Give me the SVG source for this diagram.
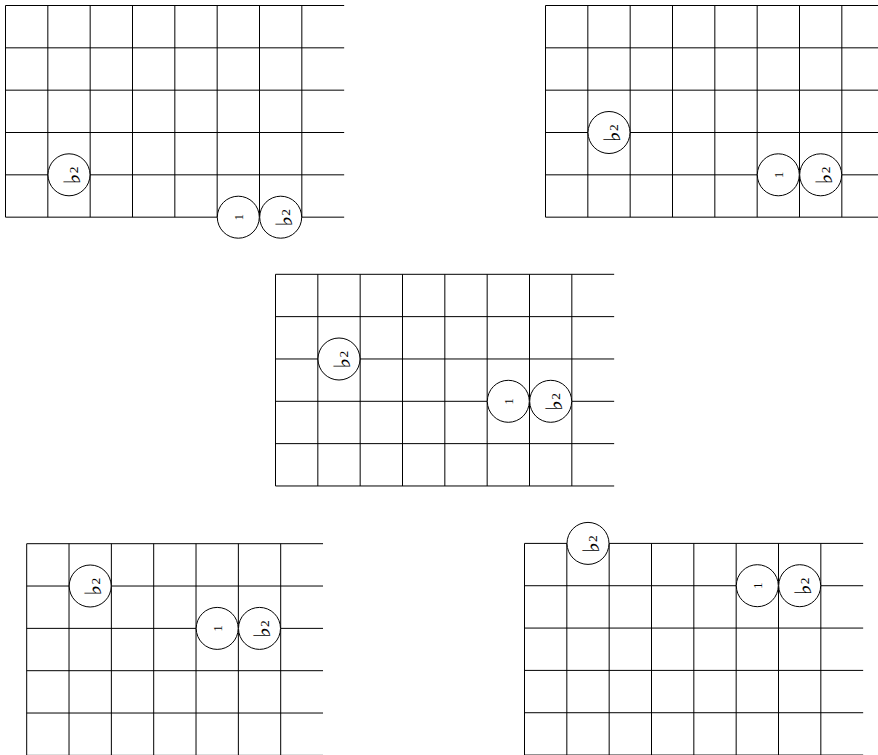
<svg xmlns="http://www.w3.org/2000/svg" xmlns:xlink="http://www.w3.org/1999/xlink" width="878" height="755" viewBox="0 0 878 755">
<style>
.grid{fill:none;stroke:#000;stroke-width:1}
.nc{fill:#fff;stroke:#000;stroke-width:1}
.num{font-family:"Liberation Serif","DejaVu Serif",serif;font-size:12.5px;fill:#000}
.sup{font-family:"Liberation Serif","DejaVu Serif",serif;font-size:13.5px;fill:#000}
.flat{font-family:"DejaVu Serif","DejaVu Sans",serif;font-size:23px;fill:#000}
</style>
<defs>
<path id="grid8" d="M0,0H338.67M0,42.33H338.67M0,84.67H338.67M0,127H338.67M0,169.33H338.67M0,211.67H338.67M0,0V211.67M42.33,0V211.67M84.67,0V211.67M127,0V211.67M169.33,0V211.67M211.67,0V211.67M254,0V211.67M296.33,0V211.67"/>
<path id="grid7" d="M0,0H296.33M0,42.33H296.33M0,84.67H296.33M0,127H296.33M0,169.33H296.33M0,211.67H296.33M0,0V211.67M42.33,0V211.67M84.67,0V211.67M127,0V211.67M169.33,0V211.67M211.67,0V211.67M254,0V211.67"/>
<g id="one"><circle class="nc" r="21" fill="#fff" stroke="#000"/><text class="num" transform="rotate(-90)" x="0" y="4.8" text-anchor="middle">1</text></g>
<g id="flat2"><circle class="nc" r="21" fill="#fff" stroke="#000"/><text transform="rotate(-90)"><tspan class="flat" x="-9.4" y="10.8">♭</tspan><tspan class="sup" x="1.5" y="9.3">2</tspan></text></g>
</defs>
<g id="grid1">
<use class="grid" xlink:href="#grid8" x="5.5" y="5.5"/>
<g id="g1-b2a" class="note" transform="translate(69,174.8)"><use xlink:href="#flat2"/></g>
<g id="g1-1" class="note" transform="translate(238.3,217.2)"><use xlink:href="#one"/></g>
<g id="g1-b2b" class="note" transform="translate(280.7,217.2)"><use xlink:href="#flat2"/></g>
</g>
<g id="grid2">
<use class="grid" xlink:href="#grid8" x="545.5" y="5.5"/>
<g id="g2-b2a" class="note" transform="translate(609,132.5)"><use xlink:href="#flat2"/></g>
<g id="g2-1" class="note" transform="translate(778.3,174.8)"><use xlink:href="#one"/></g>
<g id="g2-b2b" class="note" transform="translate(820.7,174.8)"><use xlink:href="#flat2"/></g>
</g>
<g id="grid3">
<use class="grid" xlink:href="#grid8" x="275.5" y="274.3"/>
<g id="g3-b2a" class="note" transform="translate(339,359)"><use xlink:href="#flat2"/></g>
<g id="g3-1" class="note" transform="translate(508.3,401.3)"><use xlink:href="#one"/></g>
<g id="g3-b2b" class="note" transform="translate(550.7,401.3)"><use xlink:href="#flat2"/></g>
</g>
<g id="grid4">
<use class="grid" xlink:href="#grid7" x="26.7" y="543.7"/>
<g id="g4-b2a" class="note" transform="translate(90.2,586)"><use xlink:href="#flat2"/></g>
<g id="g4-1" class="note" transform="translate(217.2,628.4)"><use xlink:href="#one"/></g>
<g id="g4-b2b" class="note" transform="translate(259.5,628.4)"><use xlink:href="#flat2"/></g>
</g>
<g id="grid5">
<use class="grid" xlink:href="#grid8" x="524.5" y="543.4"/>
<g id="g5-b2a" class="note" transform="translate(588,543.4)"><use xlink:href="#flat2"/></g>
<g id="g5-1" class="note" transform="translate(757.3,585.7)"><use xlink:href="#one"/></g>
<g id="g5-b2b" class="note" transform="translate(799.7,585.7)"><use xlink:href="#flat2"/></g>
</g>
<g id="connectors"/>
</svg>
